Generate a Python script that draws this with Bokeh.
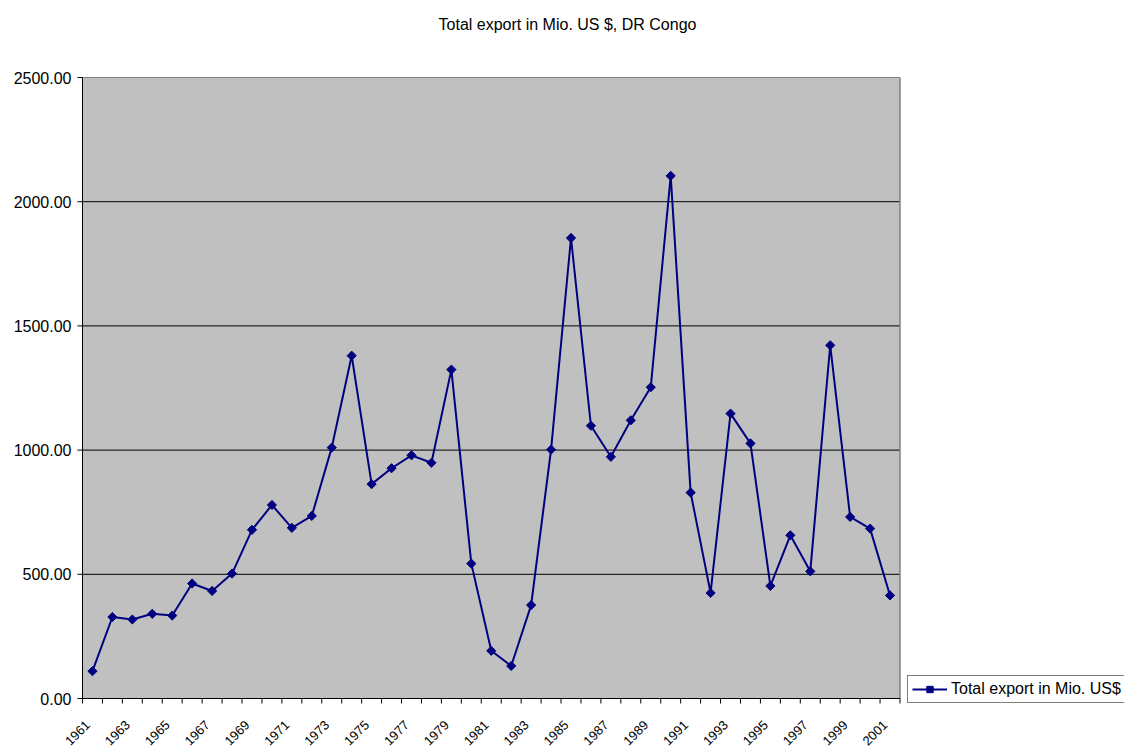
from bokeh.plotting import figure
from bokeh.models import Range1d, Legend, LegendItem, Label
from bokeh.core.properties import value
from bokeh.embed import file_html
from bokeh.resources import INLINE
from math import pi

years = list(range(1961, 2002))
exports = [110, 328, 318, 341, 334, 463, 433, 503, 679, 779,
           687, 735, 1010, 1380, 863, 927, 979, 949, 1324, 543,
           192, 131, 376, 1002, 1854, 1098, 973, 1120, 1253, 2104,
           829, 425, 1147, 1027, 453, 657, 512, 1422, 731, 684, 415]
series_name = "Total export in Mio. US$"
title_text = "Total export in Mio. US $, DR Congo"
y_ticks = [0, 500, 1000, 1500, 2000, 2500]
y_max = 2500

FONT = "Liberation Sans"
idx = list(range(len(years)))
n = len(years)

# layout (pixels)
W, H = 1124, 749
PLOT_LEFT_PX = 82       # left edge of grey plot area (y axis)
PLOT_RIGHT_PX = 899.5   # right edge of grey plot area
PLOT_TOP_PX = 77        # top edge of grey plot area
PLOT_BOTTOM_PX = 698    # bottom edge (x axis)
px_x = (PLOT_RIGHT_PX - PLOT_LEFT_PX) / n      # pixels per category
px_y = (PLOT_BOTTOM_PX - PLOT_TOP_PX) / y_max  # pixels per unit
x_start = -0.5 - PLOT_LEFT_PX / px_x
x_end = x_start + W / px_x
y_start = -(H - PLOT_BOTTOM_PX) / px_y
y_end = PLOT_BOTTOM_PX / px_y

p = figure(width=W, height=H, output_backend="svg", toolbar_location=None,
           x_axis_location=None, y_axis_location=None,
           x_range=Range1d(x_start, x_end), y_range=Range1d(y_start, y_end),
           min_border_left=0, min_border_right=0, min_border_top=0,
           min_border_bottom=0)
p.title.text = ""
p.title.standoff = 0
p.background_fill_color = "white"
p.border_fill_color = "white"
p.outline_line_color = None
p.xgrid.visible = False
p.ygrid.visible = False

# grey plot area
p.quad(left=-0.5, right=n - 0.5, bottom=0, top=y_max, fill_color="#C0C0C0", line_color=None)
# grid lines
grid_y = [t for t in y_ticks if 0 < t < y_max]
p.segment(x0=[-0.5] * len(grid_y), x1=[n - 0.5] * len(grid_y), y0=grid_y, y1=grid_y,
          line_color="black", line_width=1)
p.segment(x0=[-0.5], x1=[n - 0.5], y0=[y_max], y1=[y_max], line_color="#808080", line_width=1)
p.segment(x0=[n - 0.5], x1=[n - 0.5], y0=[0], y1=[y_max], line_color="#808080", line_width=1.5)

# category (x) axis: line, boundary ticks and rotated labels
bounds_x = [i - 0.5 for i in range(n + 1)]
tick_y = 5 / px_y
p.segment(x0=[-0.5], x1=[n - 0.5], y0=[0], y1=[0], line_color="black", line_width=1)
p.segment(x0=bounds_x, x1=bounds_x, y0=[0] * len(bounds_x), y1=[-tick_y] * len(bounds_x),
          line_color="black", line_width=1)
lab_idx = idx[::2]
p.text(x=[i - 0.5 for i in lab_idx], y=[0] * len(lab_idx), text=[str(years[i]) for i in lab_idx],
       angle=pi / 4, text_align="right", text_baseline="top", x_offset=2, y_offset=21,
       text_font=value(FONT), text_font_size=value("13px"), text_color="black")

# value (y) axis: line, ticks and labels
tick_x = 5 / px_x
p.segment(x0=[-0.5], x1=[-0.5], y0=[0], y1=[y_max], line_color="black", line_width=1)
p.segment(x0=[-0.5] * len(y_ticks), x1=[-0.5 - tick_x] * len(y_ticks), y0=y_ticks, y1=y_ticks,
          line_color="black", line_width=1)
p.text(x=[-0.5] * len(y_ticks), y=y_ticks, text=[f"{t:.2f}" for t in y_ticks],
       text_align="right", text_baseline="middle", x_offset=-11,
       text_font=value(FONT), text_font_size=value("16px"), text_color="black")

# data series
line_r = p.line(idx, exports, line_color="#000080", line_width=2)
sc_r = p.scatter(idx, exports, marker="square", angle=pi / 4, size=6.5,
                 fill_color="#000080", line_color="#000080")

title = Label(x=567, y=H - 23.5, x_units="screen", y_units="screen",
              text=title_text, text_align="center", text_baseline="middle",
              text_font=FONT, text_font_size="16px", text_color="black")
p.add_layout(title)

legend = Legend(items=[LegendItem(label=series_name, renderers=[line_r, sc_r])],
                location=(907, H - 703))
legend.border_line_color = "black"
legend.border_line_width = 1
legend.background_fill_color = "white"
legend.background_fill_alpha = 1
legend.label_text_font = FONT
legend.label_text_font_size = "16px"
legend.label_text_color = "black"
legend.glyph_width = 35
legend.glyph_height = 16
legend.label_height = 16
legend.label_standoff = 4
legend.padding = 4
legend.margin = 0
legend.spacing = 0
p.add_layout(legend)

open("out.html", "w").write(file_html(p, INLINE))
